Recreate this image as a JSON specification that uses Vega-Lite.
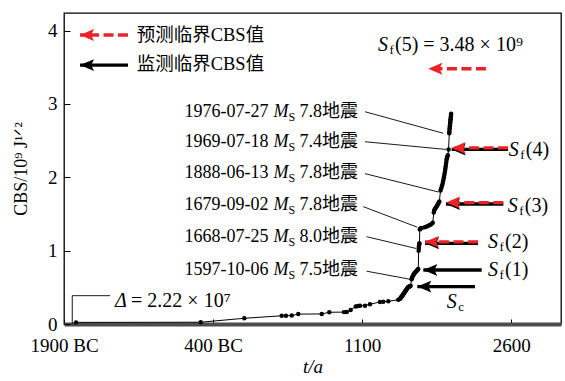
{
  "$schema": "https://vega.github.io/schema/vega-lite/v6.json",
  "width": 497,
  "height": 311,
  "autosize": "none",
  "padding": {"left": 64, "top": 13, "right": 4, "bottom": 57},
  "background": "white",
  "config": {
    "font": "'Liberation Serif', 'Noto Sans CJK SC', serif",
    "view": {"stroke": "black", "strokeWidth": 1.3},
    "axis": {"grid": false, "labelColor": "black", "titleColor": "black", "titleFontWeight": "normal", "labelFont": "'Liberation Serif', serif", "titleFont": "'Liberation Serif', 'DejaVu Serif', serif", "tickColor": "black", "tickWidth": 1},
    "text": {"font": "'Liberation Serif', 'Noto Sans CJK SC', serif", "color": "black"}
  },
  "datasets": {
    "cbs": [
      {"year": -1779, "cbs": 0.022}, {"year": -525, "cbs": 0.024}, {"year": -86, "cbs": 0.078},
      {"year": 290, "cbs": 0.112}, {"year": 333, "cbs": 0.113}, {"year": 391, "cbs": 0.115},
      {"year": 457, "cbs": 0.135}, {"year": 693, "cbs": 0.137}, {"year": 769, "cbs": 0.16},
      {"year": 917, "cbs": 0.162}, {"year": 944, "cbs": 0.165}, {"year": 984, "cbs": 0.19},
      {"year": 1035, "cbs": 0.24}, {"year": 1058, "cbs": 0.245}, {"year": 1078, "cbs": 0.25},
      {"year": 1128, "cbs": 0.25}, {"year": 1178, "cbs": 0.27}, {"year": 1279, "cbs": 0.3},
      {"year": 1312, "cbs": 0.302}, {"year": 1363, "cbs": 0.31}, {"year": 1463, "cbs": 0.33},
      {"year": 1478, "cbs": 0.34}, {"year": 1484, "cbs": 0.35}, {"year": 1490, "cbs": 0.36},
      {"year": 1495, "cbs": 0.37}, {"year": 1500, "cbs": 0.38}, {"year": 1505, "cbs": 0.39},
      {"year": 1510, "cbs": 0.4}, {"year": 1515, "cbs": 0.41}, {"year": 1520, "cbs": 0.42},
      {"year": 1525, "cbs": 0.43}, {"year": 1530, "cbs": 0.44}, {"year": 1535, "cbs": 0.45},
      {"year": 1540, "cbs": 0.46}, {"year": 1545, "cbs": 0.47}, {"year": 1550, "cbs": 0.48},
      {"year": 1556, "cbs": 0.49}, {"year": 1562, "cbs": 0.5}, {"year": 1568, "cbs": 0.505},
      {"year": 1574, "cbs": 0.51}, {"year": 1580, "cbs": 0.515}, {"year": 1587, "cbs": 0.52},
      {"year": 1597, "cbs": 0.61}, {"year": 1601, "cbs": 0.63}, {"year": 1606, "cbs": 0.645},
      {"year": 1612, "cbs": 0.66}, {"year": 1618, "cbs": 0.675}, {"year": 1624, "cbs": 0.69},
      {"year": 1630, "cbs": 0.7}, {"year": 1637, "cbs": 0.71}, {"year": 1644, "cbs": 0.72},
      {"year": 1651, "cbs": 0.73}, {"year": 1658, "cbs": 0.74}, {"year": 1664, "cbs": 0.75},
      {"year": 1668, "cbs": 1.0}, {"year": 1669, "cbs": 1.03}, {"year": 1670, "cbs": 1.05},
      {"year": 1672, "cbs": 1.07}, {"year": 1674, "cbs": 1.09}, {"year": 1676, "cbs": 1.1},
      {"year": 1679, "cbs": 1.29}, {"year": 1684, "cbs": 1.3}, {"year": 1690, "cbs": 1.305},
      {"year": 1700, "cbs": 1.31}, {"year": 1730, "cbs": 1.32}, {"year": 1750, "cbs": 1.33},
      {"year": 1765, "cbs": 1.34}, {"year": 1780, "cbs": 1.35}, {"year": 1795, "cbs": 1.36},
      {"year": 1810, "cbs": 1.38}, {"year": 1820, "cbs": 1.52}, {"year": 1825, "cbs": 1.55},
      {"year": 1830, "cbs": 1.565}, {"year": 1838, "cbs": 1.58}, {"year": 1845, "cbs": 1.595},
      {"year": 1852, "cbs": 1.61}, {"year": 1858, "cbs": 1.625}, {"year": 1864, "cbs": 1.64},
      {"year": 1870, "cbs": 1.655}, {"year": 1876, "cbs": 1.67}, {"year": 1888, "cbs": 1.82},
      {"year": 1895, "cbs": 1.85}, {"year": 1902, "cbs": 1.88}, {"year": 1908, "cbs": 1.91},
      {"year": 1913, "cbs": 1.94}, {"year": 1918, "cbs": 1.97}, {"year": 1922, "cbs": 2.0},
      {"year": 1926, "cbs": 2.03}, {"year": 1930, "cbs": 2.06}, {"year": 1934, "cbs": 2.09},
      {"year": 1937, "cbs": 2.12}, {"year": 1940, "cbs": 2.15}, {"year": 1943, "cbs": 2.18},
      {"year": 1946, "cbs": 2.21}, {"year": 1949, "cbs": 2.24}, {"year": 1952, "cbs": 2.26},
      {"year": 1956, "cbs": 2.28}, {"year": 1962, "cbs": 2.3}, {"year": 1969, "cbs": 2.38},
      {"year": 1976, "cbs": 2.6}, {"year": 1977, "cbs": 2.62}, {"year": 1978.5, "cbs": 2.645},
      {"year": 1980, "cbs": 2.67}, {"year": 1981.5, "cbs": 2.69}, {"year": 1983, "cbs": 2.71},
      {"year": 1984.5, "cbs": 2.73}, {"year": 1986, "cbs": 2.75}, {"year": 1987.5, "cbs": 2.77},
      {"year": 1989, "cbs": 2.79}, {"year": 1990.5, "cbs": 2.81}, {"year": 1992, "cbs": 2.83},
      {"year": 1993.5, "cbs": 2.85}, {"year": 1995, "cbs": 2.865}
    ],
    "quakes": [
      {"date": "1976-07-27", "event": "7.8地震", "lx": -688, "ly": 2.894, "sx": 1128, "sy": 2.894, "ex": 1916, "ey": 2.6},
      {"date": "1969-07-18", "event": "7.4地震", "lx": -688, "ly": 2.485, "sx": 1128, "sy": 2.485, "ex": 1943, "ey": 2.38},
      {"date": "1888-06-13", "event": "7.8地震", "lx": -688, "ly": 2.065, "sx": 1128, "sy": 2.05, "ex": 1866, "ey": 1.8},
      {"date": "1679-09-02", "event": "7.8地震", "lx": -688, "ly": 1.622, "sx": 1111, "sy": 1.6, "ex": 1654, "ey": 1.32},
      {"date": "1668-07-25", "event": "8.0地震", "lx": -688, "ly": 1.19, "sx": 1145, "sy": 1.19, "ex": 1641, "ey": 1.03},
      {"date": "1597-10-06", "event": "7.5地震", "lx": -688, "ly": 0.736, "sx": 1145, "sy": 0.72, "ex": 1581, "ey": 0.61}
    ],
    "arrows": [
      {"name": "Sc", "kind": "monitored", "tip": 1654, "tail": 2235, "v": 0.51},
      {"name": "Sf(1)", "kind": "monitored", "tip": 1715, "tail": 2302, "v": 0.736},
      {"name": "Sf(2)", "kind": "monitored", "tip": 1732, "tail": 2265, "v": 1.1},
      {"name": "Sf(3)", "kind": "monitored", "tip": 1943, "tail": 2520, "v": 1.636},
      {"name": "Sf(4)", "kind": "monitored", "tip": 2000, "tail": 2567, "v": 2.38},
      {"name": "legend", "kind": "monitored", "tip": -1739, "tail": -1256, "v": 3.53},
      {"name": "Sf(2)", "kind": "predicted", "tip": 1732, "tail": 2265, "v": 1.12},
      {"name": "Sf(3)", "kind": "predicted", "tip": 1943, "tail": 2520, "v": 1.656},
      {"name": "Sf(4)", "kind": "predicted", "tip": 2000, "tail": 2567, "v": 2.4},
      {"name": "Sf(5)", "kind": "predicted", "tip": 1765, "tail": 2345, "v": 3.48},
      {"name": "legend", "kind": "predicted", "tip": -1739, "tail": -1256, "v": 3.94}
    ],
    "slabels": [
      {"x": 2574, "v": 2.372, "sub": "f", "rest": "(4)"},
      {"x": 2564, "v": 1.609, "sub": "f", "rest": "(3)"},
      {"x": 2366, "v": 1.118, "sub": "f", "rest": "(2)"},
      {"x": 2366, "v": 0.736, "sub": "f", "rest": "(1)"},
      {"x": 1950, "v": 0.304, "sub": "c", "rest": ""},
      {"x": 1259, "v": 3.8, "sub": "f", "rest": "(5)  =  3.48 × 10⁹"}
    ],
    "legendtext": [
      {"x": -1169, "v": 3.94, "label": "预测临界CBS值"},
      {"x": -1169, "v": 3.54, "label": "监测临界CBS值"}
    ],
    "delta": [
      {"x": -1817, "y": 0, "x2": -1817, "y2": 0.386},
      {"x": -1817, "y": 0.386, "x2": -1437, "y2": 0.386}
    ],
    "deltatext": [
      {"x": -1386, "v": 0.318, "sym": "Δ", "rest": "=  2.22 × 10⁷"}
    ]
  },
  "layer": [
    {
      "data": {"name": "cbs"},
      "mark": {"type": "line", "color": "black", "strokeWidth": 1},
      "encoding": {
        "x": {
          "field": "year", "type": "quantitative",
          "scale": {"domain": [-1900, 3100], "nice": false, "zero": false},
          "axis": {
            "title": "t/a", "titleFontSize": 19, "titleFontStyle": "italic", "titlePadding": 2,
            "titleFont": "'Liberation Serif', serif", "labelFont": "'Liberation Serif', serif",
            "values": [-1900, -400, 1100, 2600],
            "labelExpr": "datum.value == -1900 ? '1900 BC' : (datum.value == -400 ? '400 BC' : '' + datum.value)",
            "labelFontSize": 19, "labelPadding": 17, "labelDx": 5, "labelFlush": false, "labelOverlap": false,
            "tickSize": -5, "domainColor": "#4d4d4d", "domainWidth": 4
          }
        },
        "y": {
          "field": "cbs", "type": "quantitative",
          "scale": {"domain": [0, 4.24], "nice": false},
          "axis": {
            "title": "CBS/10⁹ J¹ᐟ²", "titleFontSize": 18, "titlePadding": 17,
            "titleFont": "'Liberation Serif', 'DejaVu Serif', serif", "labelFont": "'Liberation Serif', serif",
            "values": [0, 1, 2, 3, 4], "format": "d",
            "labelFontSize": 19, "labelPadding": 13, "labelOverlap": false, "labelFlush": false,
            "tickSize": -6, "domain": false
          }
        }
      }
    },
    {
      "data": {"name": "cbs"},
      "mark": {"type": "point", "filled": true, "color": "black", "size": 20, "opacity": 1},
      "encoding": {
        "x": {"field": "year", "type": "quantitative"},
        "y": {"field": "cbs", "type": "quantitative"}
      }
    },
    {
      "data": {"name": "quakes"},
      "mark": {"type": "rule", "color": "black", "strokeWidth": 0.9},
      "encoding": {
        "x": {"field": "sx", "type": "quantitative"},
        "y": {"field": "sy", "type": "quantitative"},
        "x2": {"field": "ex"},
        "y2": {"field": "ey"}
      }
    },
    {
      "data": {"name": "quakes"},
      "mark": {"type": "text", "align": "left", "baseline": "middle", "fontSize": 18},
      "encoding": {
        "x": {"field": "lx", "type": "quantitative"},
        "y": {"field": "ly", "type": "quantitative"},
        "text": {"field": "date"}
      }
    },
    {
      "data": {"name": "quakes"},
      "mark": {"type": "text", "align": "left", "baseline": "middle", "fontSize": 18, "fontStyle": "italic", "dx": 89},
      "encoding": {
        "x": {"field": "lx", "type": "quantitative"},
        "y": {"field": "ly", "type": "quantitative"},
        "text": {"value": "M"}
      }
    },
    {
      "data": {"name": "quakes"},
      "mark": {"type": "text", "align": "left", "baseline": "middle", "fontSize": 12, "dx": 104, "dy": 5},
      "encoding": {
        "x": {"field": "lx", "type": "quantitative"},
        "y": {"field": "ly", "type": "quantitative"},
        "text": {"value": "S"}
      }
    },
    {
      "data": {"name": "quakes"},
      "mark": {"type": "text", "align": "left", "baseline": "middle", "fontSize": 18, "dx": 115},
      "encoding": {
        "x": {"field": "lx", "type": "quantitative"},
        "y": {"field": "ly", "type": "quantitative"},
        "text": {"field": "event"}
      }
    },
    {
      "data": {"name": "delta"},
      "mark": {"type": "rule", "color": "black", "strokeWidth": 0.9},
      "encoding": {
        "x": {"field": "x", "type": "quantitative"},
        "y": {"field": "y", "type": "quantitative"},
        "x2": {"field": "x2"},
        "y2": {"field": "y2"}
      }
    },
    {
      "data": {"name": "deltatext"},
      "mark": {"type": "text", "align": "left", "baseline": "middle", "fontSize": 20, "fontStyle": "italic"},
      "encoding": {
        "x": {"field": "x", "type": "quantitative"},
        "y": {"field": "v", "type": "quantitative"},
        "text": {"field": "sym"}
      }
    },
    {
      "data": {"name": "deltatext"},
      "mark": {"type": "text", "align": "left", "baseline": "middle", "fontSize": 20, "dx": 16},
      "encoding": {
        "x": {"field": "x", "type": "quantitative"},
        "y": {"field": "v", "type": "quantitative"},
        "text": {"field": "rest"}
      }
    },
    {
      "data": {"name": "arrows"},
      "transform": [{"filter": "datum.kind == 'monitored'"}],
      "mark": {"type": "rule", "color": "black", "strokeWidth": 3.3},
      "encoding": {
        "x": {"field": "tail", "type": "quantitative"},
        "x2": {"field": "tip"},
        "y": {"field": "v", "type": "quantitative"}
      }
    },
    {
      "data": {"name": "arrows"},
      "transform": [{"filter": "datum.kind == 'monitored'"}],
      "mark": {"type": "point", "filled": true, "color": "black", "opacity": 1, "size": 196, "shape": "M0,0L2,-0.85L1.6,0L2,0.85Z"},
      "encoding": {
        "x": {"field": "tip", "type": "quantitative"},
        "y": {"field": "v", "type": "quantitative"}
      }
    },
    {
      "data": {"name": "arrows"},
      "transform": [{"filter": "datum.kind == 'predicted'"}],
      "mark": {"type": "rule", "color": "#ec2227", "strokeWidth": 3.3, "strokeDash": [10, 4.5]},
      "encoding": {
        "x": {"field": "tail", "type": "quantitative"},
        "x2": {"field": "tip"},
        "y": {"field": "v", "type": "quantitative"}
      }
    },
    {
      "data": {"name": "arrows"},
      "transform": [{"filter": "datum.kind == 'predicted'"}],
      "mark": {"type": "point", "filled": true, "color": "#ec2227", "opacity": 1, "size": 196, "shape": "M0,0L2,-0.85L1.6,0L2,0.85Z"},
      "encoding": {
        "x": {"field": "tip", "type": "quantitative"},
        "y": {"field": "v", "type": "quantitative"}
      }
    },
    {
      "data": {"name": "slabels"},
      "mark": {"type": "text", "align": "left", "baseline": "middle", "fontSize": 20, "fontStyle": "italic"},
      "encoding": {
        "x": {"field": "x", "type": "quantitative"},
        "y": {"field": "v", "type": "quantitative"},
        "text": {"value": "S"}
      }
    },
    {
      "data": {"name": "slabels"},
      "mark": {"type": "text", "align": "left", "baseline": "middle", "fontSize": 13, "dx": 11.5, "dy": 5},
      "encoding": {
        "x": {"field": "x", "type": "quantitative"},
        "y": {"field": "v", "type": "quantitative"},
        "text": {"field": "sub"}
      }
    },
    {
      "data": {"name": "slabels"},
      "mark": {"type": "text", "align": "left", "baseline": "middle", "fontSize": 20, "dx": 17},
      "encoding": {
        "x": {"field": "x", "type": "quantitative"},
        "y": {"field": "v", "type": "quantitative"},
        "text": {"field": "rest"}
      }
    },
    {
      "data": {"name": "legendtext"},
      "mark": {"type": "text", "align": "left", "baseline": "middle", "fontSize": 18.5},
      "encoding": {
        "x": {"field": "x", "type": "quantitative"},
        "y": {"field": "v", "type": "quantitative"},
        "text": {"field": "label"}
      }
    }
  ]
}
